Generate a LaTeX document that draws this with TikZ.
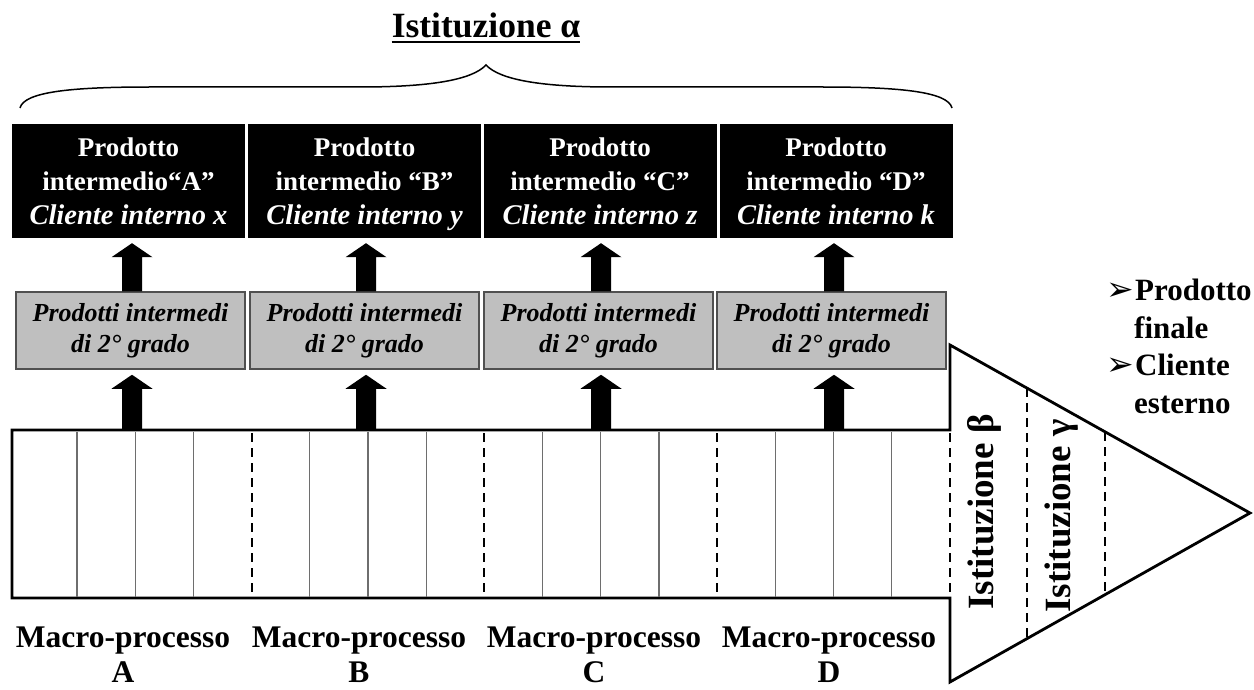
\documentclass[tikz,border=0pt]{standalone}
\usepackage{fontspec}
\setmainfont{Liberation Serif}
\newfontfamily\djv{DejaVu Sans}
\usetikzlibrary{calc}
\definecolor{boxgrey}{RGB}{191,191,191}
\definecolor{boxedge}{RGB}{80,80,80}
\definecolor{cellgrey}{RGB}{110,110,110}
\newcommand{\blockup}[3]{%
  \fill let \p1=(#1), \p2=(#2), \p3=(#3) in
   (\x3-10pt,\y1) -- (\x3-10pt,\y2-19pt) -- (\x3-20.5pt,\y2-19pt) -- (\x3,\y2-5pt)
   -- (\x3+20.5pt,\y2-19pt) -- (\x3+10pt,\y2-19pt) -- (\x3+10pt,\y1) -- cycle;}
\newcommand{\cli}[1]{{\itshape\fontsize{28.5}{34}\selectfont Cliente interno #1\vphantom{y}}}
\begin{document}
\begin{tikzpicture}[x=1pt,y=-1pt,
  blkbox/.style={fill=black, minimum width=233pt, minimum height=114pt, inner sep=0pt},
  blktxt/.style={text=white, inner sep=0pt, align=center, font=\bfseries\fontsize{27}{34}\selectfont},
  gry/.style={fill=boxgrey, draw=boxedge, line width=1.5pt, minimum width=229pt, minimum height=77pt,
    inner sep=0pt, align=center, font=\bfseries\itshape\fontsize{26}{31}\selectfont},
  lbl/.style={anchor=base, inner sep=0pt, font=\bfseries\fontsize{31.5}{36}\selectfont},
  rtxt/.style={anchor=base west, inner sep=0pt, font=\bfseries\fontsize{31}{36}\selectfont},
  bul/.style={anchor=base east, inner sep=0pt, font=\djv\fontsize{33}{33}\selectfont},
  rot/.style={rotate=90, inner sep=0pt, font=\bfseries\fontsize{37}{40}\selectfont},
  cellline/.style={draw=cellgrey, line width=1.3pt},
  dashsep/.style={line width=2pt, dash pattern=on 9pt off 6pt},
  bigarrow/.style={line width=2.8pt, line join=miter},
]
\useasboundingbox (0,0) rectangle (1254,690);

% title and brace
\node[inner sep=0pt, anchor=base, font=\bfseries\fontsize{35.5}{40}\selectfont] (title) at (486,38) {Istituzione α};
\draw[line width=2pt] ([yshift=-4pt]title.base west) -- ([yshift=-4pt]title.base east);
\draw[line width=1.5pt] (20,108) .. controls (24,92) and (70,87) .. (150,87) -- (360,87)
  .. controls (430,87) and (472,80) .. (486,65)
  .. controls (500,80) and (542,87) .. (612,87) -- (822,87)
  .. controls (902,87) and (948,92) .. (952,108);

% black boxes
\node[blkbox] (b1) at (128.5,181) {};
\node[blkbox] (b2) at (364.5,181) {};
\node[blkbox] (b3) at (600,181) {};
\node[blkbox] (b4) at (836,181) {};
\node[blktxt] (t1) at ([yshift=-3pt]b1.center) {Prodotto\\intermedio“A”\\\cli{x}};
\node[blktxt] (t2) at ([yshift=-3pt]b2.center) {Prodotto\\intermedio “B”\\\cli{y}};
\node[blktxt] (t3) at ([yshift=-3pt]b3.center) {Prodotto\\intermedio “C”\\\cli{z}};
\node[blktxt] (t4) at ([yshift=-3pt]b4.center) {Prodotto\\intermedio “D”\\\cli{k}};

% grey boxes
\node[gry] (g1) at (130.5,330.5) {Prodotti intermedi\\di 2° grado};
\node[gry] (g2) at (364.5,330.5) {Prodotti intermedi\\di 2° grado};
\node[gry] (g3) at (598.5,330.5) {Prodotti intermedi\\di 2° grado};
\node[gry] (g4) at (831.5,330.5) {Prodotti intermedi\\di 2° grado};

% big arrow body
\draw[bigarrow] (12,430) -- (950,430) -- (950,345) -- (1250,513) -- (950,682) -- (950,598) -- (12,598) -- cycle;
\foreach \k in {1,2,3,5,6,7,9,10,11,13,14,15}
  \draw[cellline] (18.8+58.2*\k,431.5) -- (18.8+58.2*\k,596.5);
\foreach \k in {4,8,12,16}
  \draw[dashsep] (18.8+58.2*\k,433) -- (18.8+58.2*\k,594);
\draw[dashsep] (1027,388) -- (1027,639);
\draw[dashsep] (1105,432) -- (1105,595);

\node[rot] (ib) at (984,512) {Istituzione β};
\node[rot] (ig) at (1062,516) {Istituzione γ};

% block arrows
\coordinate (p1) at (132,430);
\coordinate (p2) at (366,430);
\coordinate (p3) at (601,430);
\coordinate (p4) at (834,430);
\foreach \i in {1,2,3,4}{
  \blockup{p\i}{g\i.south}{p\i}
  \blockup{g\i.north}{b\i.south}{p\i}
}

% right text
\node[bul] (a1) at (1134,300) {➢};
\node[rtxt] (r1) at (1135,300) {Prodotto};
\node[rtxt] (r2) at (1134,338) {finale};
\node[bul] (a3) at (1134,375) {➢};
\node[rtxt] (r3) at (1135,375) {Cliente};
\node[rtxt] (r4) at (1134,413) {esterno};

% macro labels
\foreach \x/\L/\i in {123/A/1,359/B/2,594/C/3,829/D/4}{
  \node[lbl] (m\i) at (\x,647) {Macro-processo};
  \node[lbl] (l\i) at (\x,682) {\L};
}
\end{tikzpicture}
\end{document}
